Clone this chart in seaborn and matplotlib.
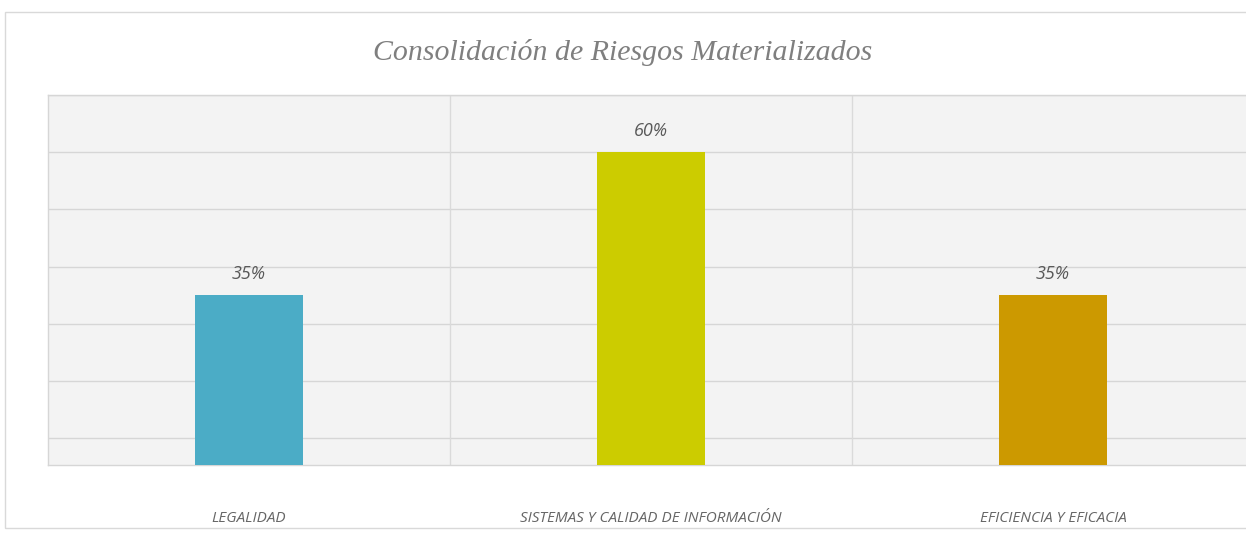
import matplotlib
matplotlib.use("Agg")
import matplotlib.pyplot as plt
import matplotlib.patches as mpatches
import seaborn as sns
import pandas as pd

# Data
categorias = ["LEGALIDAD", "SISTEMAS Y CALIDAD DE INFORMACIÓN", "EFICIENCIA Y EFICACIA"]
porcentajes = [35, 60, 35]
colores = ["#4BACC6", "#CCCC00", "#CC9900"]
titulo = "Consolidación de Riesgos Materializados"

df = pd.DataFrame({"categoria": categorias, "valor": porcentajes})

sns.set_theme(style="white")
plt.rcParams["font.family"] = ["Open Sans", "DejaVu Sans"]

fig = plt.figure(figsize=(12.46, 5.33), dpi=100)
fig.patch.set_facecolor("white")

# outer chart frame
frame = mpatches.Rectangle((0.004, 0.01), 1.2, 0.967, transform=fig.transFigure,
                           fill=False, edgecolor="#d9d9d9", linewidth=1.0, zorder=0)
fig.add_artist(frame)

ax = fig.add_axes([0.0385, 0.1276, 0.968, 0.6942])
ax.set_facecolor("#f3f3f3")

sns.barplot(data=df, x="categoria", y="valor", hue="categoria", palette=colores,
            width=0.27, saturation=1, legend=False, ax=ax, zorder=3, linewidth=0)

ax.set_xlim(-0.5, 2.5)
ax.set_ylim(5.3, 70)
ax.set_yticks(range(10, 71, 10))
ax.yaxis.grid(True, color="#d6d6d6", linewidth=1.0, zorder=1)
ax.set_axisbelow(True)
for xv in (0.5, 1.5):
    ax.axvline(xv, color="#dadada", linewidth=1.0, zorder=1)

for side in ("left", "bottom", "top", "right"):
    ax.spines[side].set_color("#d6d6d6")
    ax.spines[side].set_linewidth(1.0)

ax.tick_params(axis="y", left=False, labelleft=False)
ax.tick_params(axis="x", bottom=False, pad=27)
ax.set_xlabel("")
ax.set_ylabel("")
for lbl in ax.get_xticklabels():
    lbl.set_fontsize(11)
    lbl.set_fontstyle("italic")
    lbl.set_color("#666666")

for cont in ax.containers:
    ax.bar_label(cont, labels=[f"{v:.0f}%" for v in cont.datavalues], padding=9,
                 fontsize=13, fontstyle="italic", color="#595959")

fig.text(0.5, 0.902, titulo, ha="center", va="center", fontsize=21.5,
         fontstyle="italic", color="#7f7f7f", family=["Liberation Serif", "DejaVu Serif"])

fig.savefig("out.png", dpi=100, facecolor="white")
